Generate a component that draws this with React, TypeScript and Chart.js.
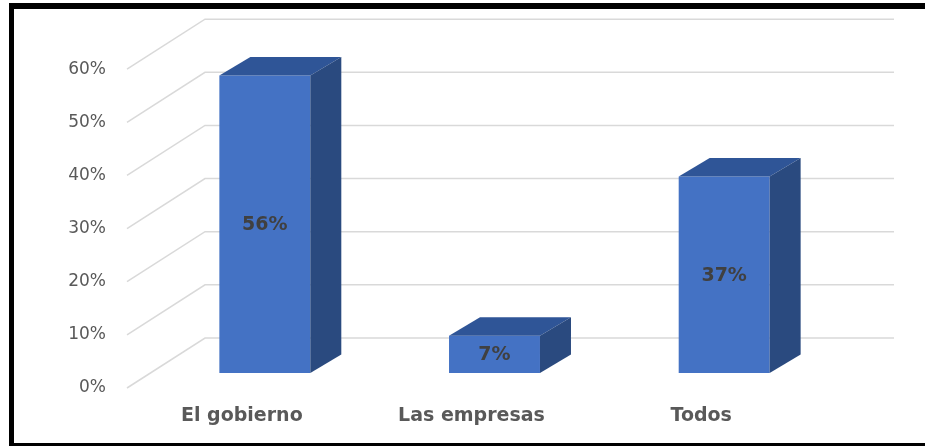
import React, { useEffect, useRef } from "react";
import { Chart, registerables } from "chart.js";

Chart.register(...registerables);

const categories = ["El gobierno", "Las empresas", "Todos"];
const values = [0.56, 0.07, 0.37];
const yMax = 0.6;
const yStep = 0.1;

const FRONT = "#4472C4";
const TOP = "#2F5597";
const SIDE = "#2A4A7F";
const GRID = "#d9d9d9";

// oblique projection offsets
const BAR_DX = 31;
const BAR_DY = -18.5;
const FLOOR_FRONT_DX = -23;
const FLOOR_FRONT_DY = 15;
const WALL_DX = 55;
const WALL_DY = -35;

const framePlugin = {
  id: "frame",
  beforeDraw(chart: any) {
    const { ctx, width, height } = chart;
    ctx.save();
    ctx.fillStyle = "#ffffff";
    ctx.fillRect(0, 0, width, height);
    ctx.fillStyle = "#000000";
    ctx.fillRect(9, 3, 5, height - 3);
    ctx.fillRect(9, 3, width - 9, 6);
    ctx.fillRect(9, 443, width - 9, 3);
    ctx.restore();
  },
};

const wallPlugin = {
  id: "wall",
  beforeDatasetsDraw(chart: any) {
    const { ctx, chartArea } = chart;
    const y = chart.scales.y;
    ctx.save();
    ctx.strokeStyle = GRID;
    ctx.lineWidth = 1.5;
    for (const t of y.ticks) {
      const yf = y.getPixelForValue(t.value);
      ctx.beginPath();
      ctx.moveTo(chartArea.left + FLOOR_FRONT_DX, yf + FLOOR_FRONT_DY);
      ctx.lineTo(chartArea.left + WALL_DX, yf + WALL_DY);
      ctx.lineTo(chartArea.right + WALL_DX, yf + WALL_DY);
      ctx.stroke();
    }
    ctx.restore();
  },
};

const bar3dPlugin = {
  id: "bar3d",
  afterDatasetsDraw(chart: any) {
    const { ctx } = chart;
    const meta = chart.getDatasetMeta(0);
    ctx.save();
    meta.data.forEach((bar: any, i: number) => {
      const { x, y, base, width } = bar.getProps(["x", "y", "base", "width"], true);
      const l = x - width / 2;
      const r = x + width / 2;
      ctx.fillStyle = TOP;
      ctx.beginPath();
      ctx.moveTo(l, y);
      ctx.lineTo(l + BAR_DX, y + BAR_DY);
      ctx.lineTo(r + BAR_DX, y + BAR_DY);
      ctx.lineTo(r, y);
      ctx.closePath();
      ctx.fill();
      ctx.fillStyle = SIDE;
      ctx.beginPath();
      ctx.moveTo(r, y);
      ctx.lineTo(r + BAR_DX, y + BAR_DY);
      ctx.lineTo(r + BAR_DX, base + BAR_DY);
      ctx.lineTo(r, base);
      ctx.closePath();
      ctx.fill();
      ctx.fillStyle = "#404040";
      ctx.font = "bold 19px 'DejaVu Sans'";
      ctx.textAlign = "center";
      ctx.textBaseline = "middle";
      ctx.fillText(Math.round(values[i] * 100) + "%", x, (y + base) / 2 + 1);
    });
    ctx.restore();
  },
};

export default function App() {
  const ref = useRef<HTMLCanvasElement>(null);
  useEffect(() => {
    if (!ref.current) return;
    const chart = new Chart(ref.current, {
      type: "bar",
      data: {
        labels: categories,
        datasets: [
          {
            data: values,
            backgroundColor: FRONT,
            borderWidth: 0,
            categoryPercentage: 1,
            barPercentage: 0.396,
          },
        ],
      },
      options: {
        responsive: false,
        animation: false,
        layout: { padding: { left: 0, right: 86, top: 53, bottom: 0 } },
        plugins: { legend: { display: false }, tooltip: { enabled: false } },
        scales: {
          x: {
            grid: { display: false, drawTicks: false },
            border: { display: false },
            ticks: {
              color: "#595959",
              font: { family: "'DejaVu Sans'", size: 19, weight: "bold" },
              labelOffset: -23,
              padding: 32,
            },
            afterFit(scale: any) {
              scale.height = 73;
            },
          },
          y: {
            min: 0,
            max: yMax,
            grid: { display: false, drawTicks: false },
            border: { display: false },
            ticks: {
              stepSize: yStep,
              color: "#595959",
              font: { family: "'DejaVu Sans'", size: 17 },
              padding: 44,
              labelOffset: 15,
              callback: (v: any) => Math.round(Number(v) * 100) + "%",
            },
            afterFit(scale: any) {
              scale.width = 150;
            },
          },
        },
      },
      plugins: [framePlugin, wallPlugin, bar3dPlugin],
    });
    return () => chart.destroy();
  }, []);
  return (
    <div style={{ position: "absolute", left: 0, top: 0, width: 925, height: 446 }}>
      <canvas ref={ref} width={925} height={446} />
    </div>
  );
}
